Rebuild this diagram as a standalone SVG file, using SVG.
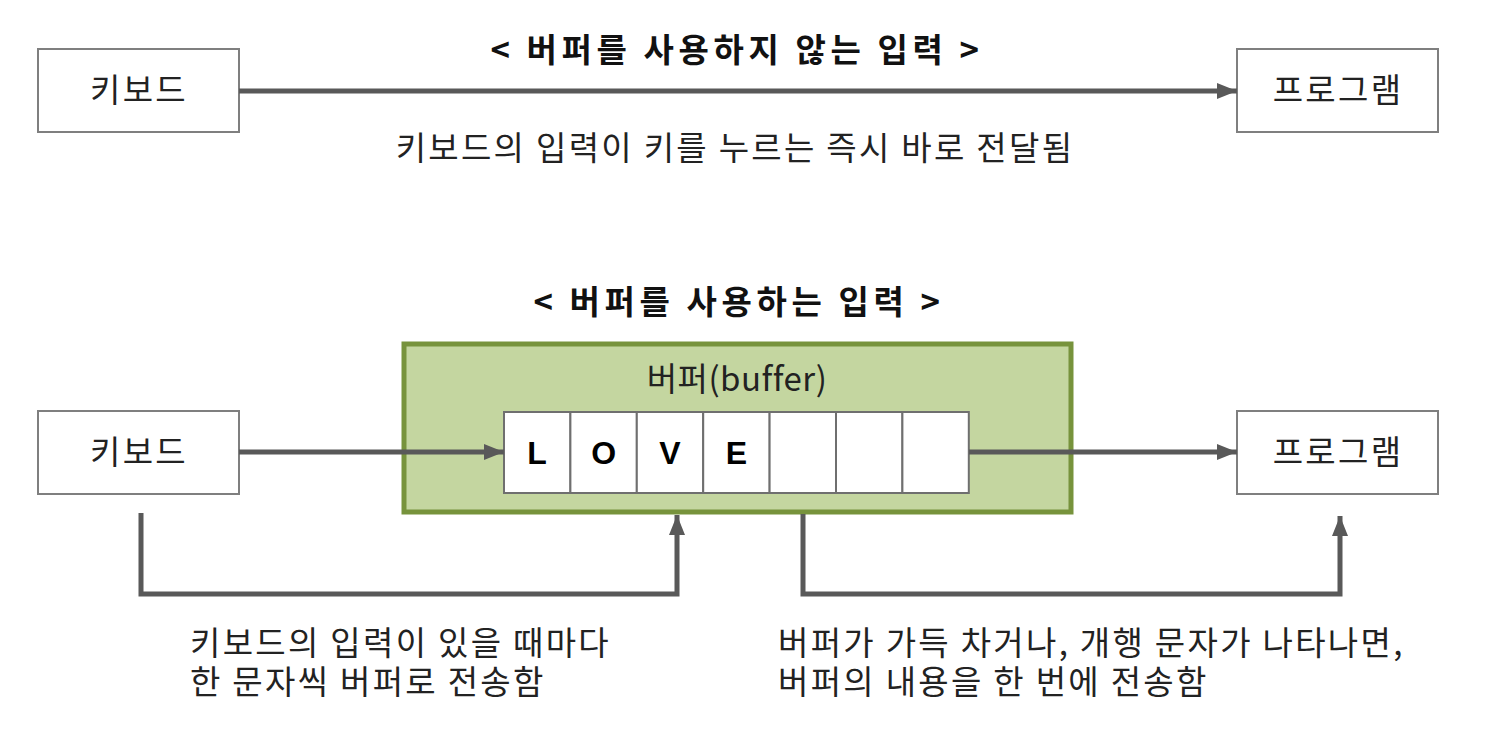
<svg xmlns="http://www.w3.org/2000/svg" width="1496" height="736" viewBox="0 0 1496 736">
<style>
.t{font-family:"Noto Sans CJK KR","Noto Sans",sans-serif;font-size:33px;fill:#222;letter-spacing:2.3px;}
.b{font-weight:bold;fill:#111;letter-spacing:4.6px;}
.box{fill:#fff;stroke:#7f7f7f;stroke-width:2;}
.cell{fill:#fff;stroke:#6f6f6f;stroke-width:2;}
.ltr{font-family:"Liberation Sans",Arial,sans-serif;font-size:32px;font-weight:bold;fill:#000;}
.con{fill:none;stroke:#595959;stroke-width:5;}
</style>
<defs>
<marker id="ah" markerUnits="userSpaceOnUse" markerWidth="20" markerHeight="16" refX="20" refY="8" orient="auto">
<path d="M0,0 L20,8 L0,16 z" fill="#595959"/>
</marker>
</defs>
<rect width="1496" height="736" fill="#fff"/>

<text class="t b" x="737" y="62" text-anchor="middle">&lt; 버퍼를 사용하지 않는 입력 &gt;</text>
<text class="t" x="735" y="160" text-anchor="middle">키보드의 입력이 키를 누르는 즉시 바로 전달됨</text>
<text class="t b" x="739" y="314" text-anchor="middle">&lt; 버퍼를 사용하는 입력 &gt;</text>

<g id="kb1"><rect class="box" x="38" y="49" width="201" height="83"/><text class="t" x="139" y="102" text-anchor="middle">키보드</text></g>
<g id="pg1"><rect class="box" x="1237" y="49" width="201" height="83"/><text class="t" x="1338" y="102" text-anchor="middle">프로그램</text></g>

<g id="buffer">
<rect x="404" y="344" width="667" height="168" fill="#c4d6a0" stroke="#77933c" stroke-width="5"/>
<text class="t" x="737" y="391" text-anchor="middle" style="letter-spacing:0.5px">버퍼(buffer)</text>
</g>

<g id="kb2"><rect class="box" x="38" y="411" width="201" height="83"/><text class="t" x="139" y="464" text-anchor="middle">키보드</text></g>
<g id="pg2"><rect class="box" x="1237" y="411" width="201" height="83"/><text class="t" x="1338" y="464" text-anchor="middle">프로그램</text></g>

<g id="cells">
<rect class="cell" x="504" y="412" width="66.4" height="81"/>
<rect class="cell" x="570.4" y="412" width="66.4" height="81"/>
<rect class="cell" x="636.8" y="412" width="66.4" height="81"/>
<rect class="cell" x="703.2" y="412" width="66.4" height="81"/>
<rect class="cell" x="769.6" y="412" width="66.4" height="81"/>
<rect class="cell" x="836" y="412" width="66.4" height="81"/>
<rect class="cell" x="902.4" y="412" width="66.4" height="81"/>
<text class="ltr" x="537" y="464" text-anchor="middle">L</text>
<text class="ltr" x="603.6" y="464" text-anchor="middle">O</text>
<text class="ltr" x="670" y="464" text-anchor="middle">V</text>
<text class="ltr" x="736.4" y="464" text-anchor="middle">E</text>
</g>

<g id="connectors">
<line class="con" x1="239" y1="91" x2="1237" y2="91" marker-end="url(#ah)"/>
<line class="con" x1="239" y1="452" x2="504" y2="452" marker-end="url(#ah)"/>
<line class="con" x1="969" y1="452" x2="1237" y2="452" marker-end="url(#ah)"/>
<polyline class="con" points="141,513 141,594 677,594 677,515" marker-end="url(#ah)"/>
<polyline class="con" points="803,514 803,594 1340,594 1340,516" marker-end="url(#ah)"/>
</g>

<text class="t"><tspan x="190" y="655">키보드의 입력이 있을 때마다</tspan><tspan x="190" y="694">한 문자씩 버퍼로 전송함</tspan></text>
<text class="t"><tspan x="778" y="655">버퍼가 가득 차거나, 개행 문자가 나타나면,</tspan><tspan x="778" y="694">버퍼의 내용을 한 번에 전송함</tspan></text>
</svg>
